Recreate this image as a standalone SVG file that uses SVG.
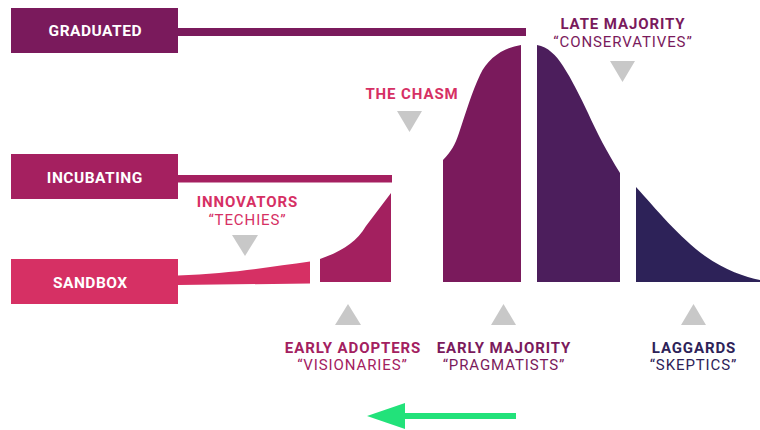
<svg xmlns="http://www.w3.org/2000/svg" width="760" height="430" viewBox="0 0 760 430">
<style>
  .box-label{font-family:Roboto,"Liberation Sans",sans-serif;font-weight:700;font-size:15.5px;letter-spacing:0.5px;fill:#ffffff;text-anchor:middle;}
  .title{font-family:Roboto,"Liberation Sans",sans-serif;font-weight:700;font-size:15px;letter-spacing:0.9px;text-anchor:middle;}
  .sub{font-family:Roboto,"Liberation Sans",sans-serif;font-weight:400;font-size:15px;letter-spacing:0.9px;text-anchor:middle;}
  .tri{fill:#c8c8c8;}
  .c-grad{fill:#7a1a5c;}
  .c-inc{fill:#a52060;}
  .c-sand{fill:#d63064;}
</style>
<rect width="760" height="430" fill="#ffffff"/>

<g id="connectors">
  <rect class="c-grad" x="178" y="28" width="348" height="8"/>
  <rect class="c-inc" x="178" y="175" width="214" height="7.5"/>
  <path class="c-sand" d="M178,275.5 C230,273.5 270,267 310,261.5 L310,283.5 L178,285 Z"/>
  <g id="arrow-left">
    <rect x="403" y="413" width="113" height="6" fill="#22e27a"/>
    <polygon points="367,416 405,403 405,429" fill="#22e27a"/>
  </g>
</g>

<g id="graduated">
  <rect class="c-grad" x="11" y="8" width="167" height="45"/>
  <text class="box-label" x="95.3" y="36">GRADUATED</text>
</g>
<g id="incubating">
  <rect class="c-inc" x="11" y="154" width="167" height="45"/>
  <text class="box-label" x="94.8" y="183">INCUBATING</text>
</g>
<g id="sandbox">
  <rect class="c-sand" x="11" y="259" width="167" height="45"/>
  <text class="box-label" x="90.3" y="288">SANDBOX</text>
</g>

<g id="innovators">
  <text class="title" x="247.5" y="207" fill="#d63064">INNOVATORS</text>
  <text class="sub" x="247.5" y="225" fill="#d63064">“TECHIES”</text>
  <polygon class="tri" points="232,235 258,235 245,256"/>
</g>

<g id="early-adopters">
  <path fill="#a3205f" d="M320,259 C340,252 356,243 366,226 L391,193 V282 H320 Z"/>
  <polygon class="tri" points="335,325 361,325 348,304"/>
  <text class="title" x="353" y="353" fill="#a3205f">EARLY ADOPTERS</text>
  <text class="sub" x="352.5" y="370" fill="#a3205f">“VISIONARIES”</text>
</g>

<g id="chasm">
  <text class="title" x="412" y="99" fill="#d63064">THE CHASM</text>
  <polygon class="tri" points="397,111 422,111 409.5,132"/>
</g>

<g id="early-majority">
  <path fill="#7a1a5c" d="M443,160 C451,152 455,145 459,133 C466,112 472,92 480,75 C488,58 503,48 521,45 V282 H443 Z"/>
  <polygon class="tri" points="491,325 516,325 503.5,304"/>
  <text class="title" x="504" y="353" fill="#7a1a5c">EARLY MAJORITY</text>
  <text class="sub" x="504" y="370" fill="#7a1a5c">“PRAGMATISTS”</text>
</g>

<g id="late-majority">
  <path fill="#4c1e5c" d="M537,45 C548,47 556,55 563,66 C572,80 580,96 588,113 C597,133 607,152 620,173 V282 H537 Z"/>
  <text class="title" x="623" y="29" fill="#7a1a5c">LATE MAJORITY</text>
  <text class="sub" x="623" y="47" fill="#7a1a5c">“CONSERVATIVES”</text>
  <polygon class="tri" points="610,61 635,61 622.5,82"/>
</g>

<g id="laggards">
  <path fill="#2d2258" d="M636,187 C655,208 680,238 705,256 C725,270 745,277 760,280 V282 H636 Z"/>
  <polygon class="tri" points="681,325 706,325 693.5,304"/>
  <text class="title" x="694" y="353" fill="#2d2258">LAGGARDS</text>
  <text class="sub" x="693.5" y="370" fill="#2d2258">“SKEPTICS”</text>
</g>
</svg>
